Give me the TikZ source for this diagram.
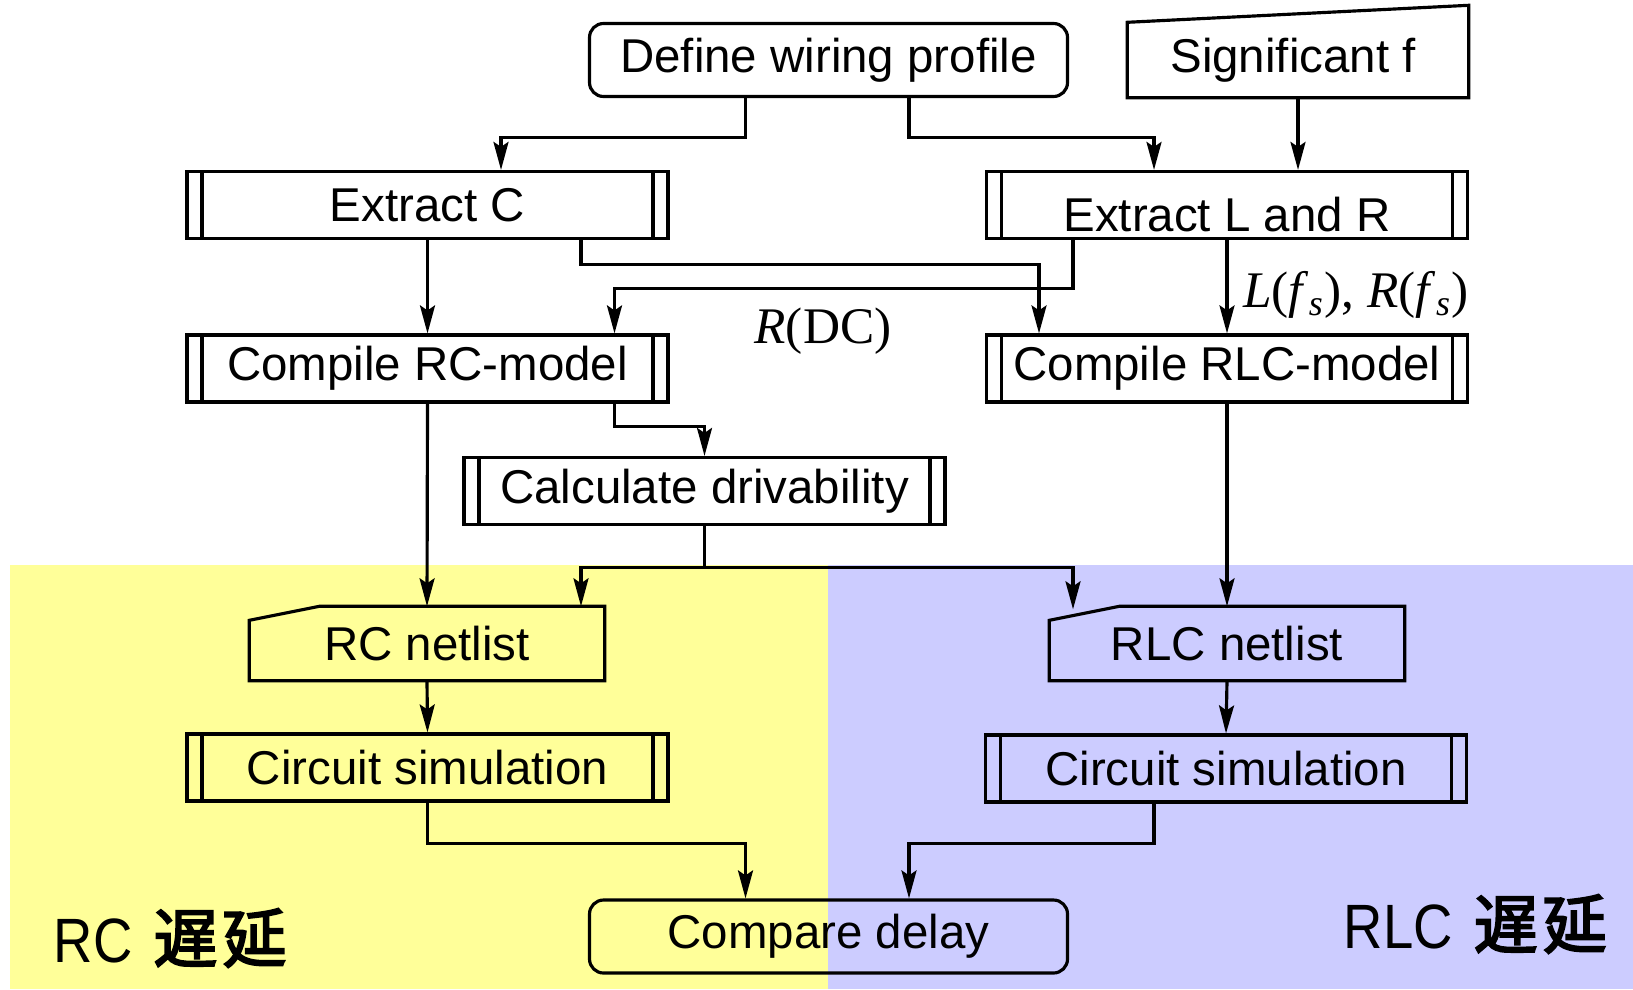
\documentclass[tikz,border=0pt]{standalone}
\usepackage{fontspec}
\setmainfont{Liberation Sans}
\newfontfamily\tms{Liberation Serif}
\newfontface\cjk[FakeBold=3]{Noto Sans CJK JP}
\usepackage{tikz}
\usetikzlibrary{positioning,arrows.meta}
\definecolor{rcyellow}{RGB}{255,255,153}
\definecolor{rlcblue}{RGB}{204,204,255}
\newcommand{\cardoutline}[1]{%
  \draw[boxline] ([yshift=-1.4mm]#1.north west) -- ([xshift=7mm]#1.north west)
    -- (#1.north east) -- (#1.south east) -- (#1.south west) -- cycle;}
\newcommand{\delaytext}{\hspace{0.6mm}{\cjk\fontsize{18.2pt}{21pt}\selectfont 遅\hspace{0.5mm}延}}

\begin{document}
\begin{tikzpicture}[x=0.1mm,y=-0.1mm,
    boxline/.style={line width=0.9pt},
    boxtext/.style={inner sep=0pt,font=\fontsize{13.5pt}{16pt}\selectfont},
    termbox/.style={boxtext,draw,boxline,rounded corners=1.4mm,
        minimum width=47.8mm,minimum height=7.3mm},
    subproc/.style={boxtext,draw,boxline,minimum width=48.1mm,minimum height=6.7mm,
        path picture={
          \draw[boxline] ([xshift=1.5mm]path picture bounding box.north west)
                      -- ([xshift=1.5mm]path picture bounding box.south west)
                         ([xshift=-1.5mm]path picture bounding box.north east)
                      -- ([xshift=-1.5mm]path picture bounding box.south east);}},
    lowtext/.style={text height=16.4pt,text depth=1.6pt},
    cardbox/.style={boxtext,minimum width=35.4mm,minimum height=7.3mm},
    inbox/.style={boxtext,minimum width=34mm,minimum height=7.4mm},
    arr/.style={line width=0.9pt,-{Stealth[length=2.8mm,width=1.5mm,inset=0.5mm]}},
    vlabel/.style={inner sep=0pt,font=\tms\fontsize{14.6pt}{18pt}\selectfont},
    arealabel/.style={inner sep=0pt,anchor=west,font=\fontsize{15.5pt}{18pt}\selectfont}]
  \useasboundingbox (0,0) rectangle (1633,989);

  % background areas
  \fill[rcyellow] (10,565) rectangle (828,989);
  \fill[rlcblue] (828,565) rectangle (1633,989);

  \node[termbox] (define) at (828.5,60) {Define wiring profile};
  \node[inbox] (sigf) at (1298,60) {\hspace{-1mm}Significant f};
  \draw[boxline] (sigf.south west) -- (sigf.north west)
    -- ([yshift=1.7mm]sigf.north east) -- (sigf.south east) -- cycle;

  \node[subproc] (extc) at (427.5,205) {Extract C};
  \node[subproc,lowtext] (extlr) at (1227,205) {Extract L and R};
  \node[subproc] (comprc) at (427.5,368.5) {Compile RC-model};
  \node[subproc] (comprlc) at (1227,368.5) {Compile RLC-model};
  \node[subproc] (calc) at (704.5,491) {Calculate drivability};

  \node[cardbox] (rcnet) at (427,643.5) {RC netlist};
  \cardoutline{rcnet}
  \node[cardbox] (rlcnet) at (1227,643.5) {RLC netlist};
  \cardoutline{rlcnet}

  \node[subproc] (simrc) at (427.5,767.5) {Circuit simulation};
  \node[subproc] (simrlc) at (1226,768.5) {Circuit simulation};
  \node[termbox] (cmp) at (828.5,936.5) {Compare delay};

  \node[arealabel] (rclab) at (53,938) {\scalebox{1}[1.15]{RC} \delaytext};
  \node[arealabel] (rlclab) at (1343,924) {\scalebox{1}[1.15]{RLC} \delaytext};

  % connectors
  \draw[arr] ([xshift=-8.3mm]define.south) -- ++(0,39) -| ([xshift=7.35mm]extc.north);
  \draw[arr] ([xshift=8.05mm]define.south) -- ++(0,39) -| ([xshift=-7.3mm]extlr.north);
  \draw[arr] (sigf.south) -- (sigf.south |- extlr.north);
  \draw[arr] (extc.south) -- (comprc.north);
  \draw[arr] ([xshift=15.35mm]extc.south) -- ++(0,24) -| ([xshift=-18.8mm]comprlc.north);
  \draw[arr] ([xshift=-15.4mm]extlr.south) -- ++(0,48) -| ([xshift=18.7mm]comprc.north);
  \draw[arr] (extlr.south) -- (comprlc.north);
  \draw[arr] ([xshift=18.7mm]comprc.south) -- ++(0,23) -| (calc.north);
  \draw[arr] (comprc.south) -- (rcnet.north);
  \draw[arr] (comprlc.south) -- (rlcnet.north);
  \draw[arr] (calc.south) -- ++(0,41.5) -| ([xshift=15.4mm]rcnet.north);
  \draw[arr] (calc.south) -- ++(0,41.5) -| ([xshift=-15.4mm,yshift=-0.3mm]rlcnet.north);
  \draw[arr] (rcnet.south) -- (simrc.north);
  \draw[arr] (rlcnet.south) -- (simrlc.north);
  \draw[arr] (simrc.south) -- ++(0,40.5) -| ([xshift=-8.3mm]cmp.north);
  \draw[arr] ([xshift=-7.2mm]simrlc.south) -- ++(0,39.5) -| ([xshift=8.05mm]cmp.north);

  \node[vlabel] (rdc) at (823,331) {\textit{R}(DC)};
  \node[vlabel] (lrfs) at (1356,295)
    {\textit{L}(\textit{f}\textsubscript{\textit{s}}), \textit{R}(\textit{f}\textsubscript{\textit{s}})};
\end{tikzpicture}
\end{document}
